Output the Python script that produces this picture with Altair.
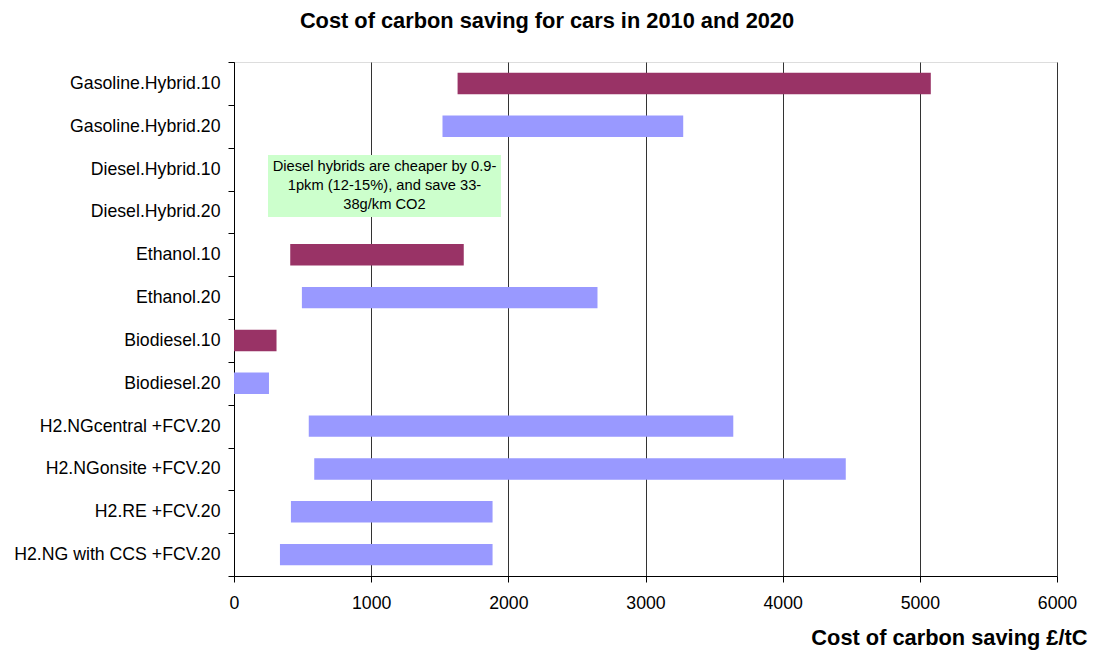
import altair as alt
import pandas as pd

categories = [
    "Gasoline.Hybrid.10", "Gasoline.Hybrid.20", "Diesel.Hybrid.10", "Diesel.Hybrid.20",
    "Ethanol.10", "Ethanol.20", "Biodiesel.10", "Biodiesel.20",
    "H2.NGcentral +FCV.20", "H2.NGonsite +FCV.20", "H2.RE +FCV.20", "H2.NG with CCS +FCV.20",
]
bar_cats = [
    "Gasoline.Hybrid.10", "Gasoline.Hybrid.20", "Ethanol.10", "Ethanol.20",
    "Biodiesel.10", "Biodiesel.20", "H2.NGcentral +FCV.20", "H2.NGonsite +FCV.20",
    "H2.RE +FCV.20", "H2.NG with CCS +FCV.20",
]
low = [1630, 1520, 410, 495, 0, 0, 545, 585, 415, 335]
high = [5080, 3275, 1675, 2650, 310, 255, 3640, 4460, 1885, 1885]
year = ["2010", "2020", "2010", "2020", "2010", "2020", "2020", "2020", "2020", "2020"]

x_ticks = [0, 1000, 2000, 3000, 4000, 5000, 6000]
title_text = "Cost of carbon saving for cars in 2010 and 2020"
x_title = "Cost of carbon saving £/tC"
note_lines = ["Diesel hybrids are cheaper by 0.9-", "1pkm (12-15%), and save 33-", "38g/km CO2"]
note_x = [248, 1946]

df = pd.DataFrame({"cat": bar_cats, "low": low, "high": high, "year": year})
note_df = pd.DataFrame({"x0": [note_x[0]], "x1": [note_x[1]], "xm": [(note_x[0] + note_x[1]) / 2],
                        "txt": [note_lines]})
title_df = pd.DataFrame({"t": [title_text]})

FONT = "Liberation Sans"

xscale = alt.Scale(domain=[0, 6000], nice=False)

bars = alt.Chart(df).mark_bar(height={"band": 0.5}).encode(
    y=alt.Y("cat:N", sort=categories,
            scale=alt.Scale(domain=categories, paddingInner=0, paddingOuter=0),
            axis=alt.Axis(title=None, tickBand="extent", labelFontSize=17.7, labelFont=FONT,
                          labelColor="black", tickColor="black", domainColor="black",
                          tickSize=6, labelPadding=8, grid=False, labelLimit=300)),
    x=alt.X("low:Q", scale=xscale,
            axis=alt.Axis(title=x_title, values=x_ticks, format="d", labelFlush=False,
                          labelFontSize=17.7, labelFont=FONT, labelColor="black",
                          tickColor="black", domainColor="black", tickSize=6, labelPadding=12,
                          gridColor="#333333", gridOpacity=1, gridWidth=1,
                          titleFontSize=21.8, titleFont=FONT, titleFontWeight="bold",
                          titleColor="black", titleX=853, titleY=61, titleAlign="right",
                          titleBaseline="middle")),
    x2="high:Q",
    color=alt.Color("year:N", scale=alt.Scale(domain=["2010", "2020"], range=["#993366", "#9999ff"]),
                    legend=None),
)

box = alt.Chart(note_df).mark_rect(color="#ccffcc").encode(
    x=alt.X("x0:Q", scale=xscale),
    x2="x1:Q",
    y=alt.value(93),
    y2=alt.value(155),
)

text = alt.Chart(note_df).mark_text(font=FONT, fontSize=14.7, color="black", align="center",
                                   baseline="middle", lineHeight=19).encode(
    x=alt.X("xm:Q", scale=xscale),
    y=alt.value(105),
    text="txt",
)

title = alt.Chart(title_df).mark_text(font=FONT, fontSize=21.8, fontWeight="bold", color="black",
                                      align="center", baseline="middle").encode(
    x=alt.value(313),
    y=alt.value(-41),
    text="t:N",
)

chart = alt.layer(bars, box, text, title).properties(
    width=823, height=514,
    autosize=alt.AutoSizeParams(type="none"),
    padding={"left": 234, "top": 62, "right": 38, "bottom": 74},
).configure_view(stroke="#888888", strokeWidth=1).configure(background="white")

chart.save("out.html", embed_options={"renderer": "svg", "actions": False})
